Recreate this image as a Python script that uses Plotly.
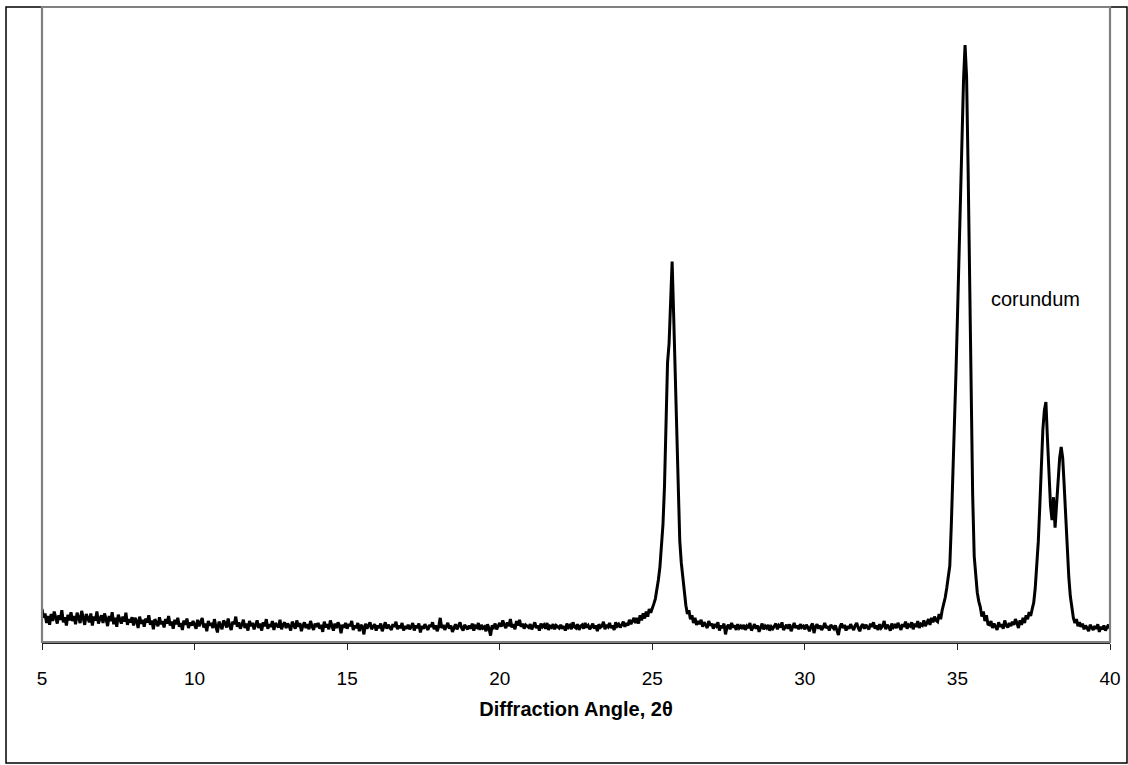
import numpy as np
import plotly.graph_objects as go

# XRD scan, intensity in arbitrary counts; each segment = (start angle, step, counts)
seg_a_start, seg_a_step = 5.0, 0.05
seg_a = [52, 38, 45, 30, 41, 27, 44, 33, 48, 36, 29, 42, 35, 50, 31, 39, 26, 43, 34, 47,
         33, 41, 28, 46, 37, 30, 49, 35, 27, 44, 38, 31, 45, 26, 40, 34, 48, 29, 37, 42,
         30, 45, 36, 25, 41, 33, 47, 28, 38, 24, 43, 35, 29, 40, 32, 46, 27, 36, 31, 39,
         26, 38, 33, 22, 40, 29, 35, 24, 37, 31, 42, 27, 34, 20, 36, 30, 25, 39, 28, 33,
         23, 36, 29, 41, 26, 32, 21, 35, 28, 38, 24, 30, 19, 34, 27, 37, 22, 31, 26, 33,
         28, 21, 35, 25, 31, 38, 23, 29, 17, 33, 26, 30, 22, 36, 24, 15, 32, 27, 20, 34,
         30, 23, 37, 26, 19, 32, 28, 40, 24, 31, 21, 27, 35, 22, 29, 18, 33, 25, 30, 20,
         26, 34, 22, 29, 18, 31, 25, 36, 21, 28, 24, 33, 19, 30, 26, 23, 35, 20, 27, 31,
         22, 29, 25, 18, 32, 27, 21, 34, 24, 30, 17, 26, 31, 22, 28, 20, 33, 25, 19, 29,
         24, 30, 21, 27, 16, 32, 23, 28, 20, 34, 25, 18, 29, 22, 31, 26, 14, 27, 23, 30,
         21, 28, 25, 33, 19, 26, 22, 30, 17, 27, 24, 12, 29, 21, 26, 31, 20, 25, 28, 18,
         26, 22, 29, 17, 25, 31, 21, 27, 23, 19, 28, 24, 32, 20, 26, 22, 30, 18, 25, 21,
         27, 20, 24, 30, 18, 26, 22, 29, 15, 25, 21, 28, 23, 19, 27, 24, 31, 20, 26, 17,
         24, 38, 22, 27, 19, 25, 30, 21, 26, 16, 23, 28, 20, 25, 31, 22, 18, 27, 24, 20,
         26, 21, 29, 18, 25, 23, 30, 19, 27, 22, 24, 17, 28, 21, 10, 26, 23, 29, 20, 25,
         30, 24, 34, 27, 22, 31, 25, 36, 23, 28, 20, 33, 26, 35, 24, 29, 21, 27, 25, 23,
         28, 20, 25, 31, 22, 26, 18, 29, 24, 27, 21, 30, 19, 25, 23, 28, 20, 26, 24, 22,
         27, 21, 25, 18, 29, 23, 26, 20, 31, 24, 22, 28, 19, 25, 27, 21, 30, 23, 26, 20,
         24, 29, 21, 26, 17, 28, 23, 25, 32, 20, 27, 24, 30, 22, 26, 19, 31, 25, 28, 23,
         27, 32, 24, 30, 26, 35, 28, 33, 38]

seg_b_start, seg_b_step = 24.45, 0.05
seg_b = [30, 38, 29, 42, 34, 45, 37, 48, 40, 52, 46, 55,
         60, 68, 80, 98, 118, 145, 185, 245, 330, 440,
         470, 545, 599, 515, 424, 300, 220, 160, 125, 100,
         75, 58, 44, 50, 36, 42, 30, 38, 27, 33]

seg_c_start, seg_c_step = 26.55, 0.05
seg_c = [28, 35, 24, 31, 27, 22, 33, 26, 29,
         21, 28, 25, 31, 18, 26, 22, 29, 12, 24, 27, 20, 30, 23, 26, 19, 28, 22, 25, 21,
         27, 19, 25, 22, 30, 18, 24, 28, 21, 26, 16, 23, 29, 20, 25, 22, 27, 18, 24, 21,
         25, 29, 20, 26, 23, 31, 19, 24, 27, 21, 28, 17, 25, 30, 22, 26, 20, 28, 23, 25,
         20, 27, 23, 17, 25, 29, 14, 24, 28, 21, 26, 19, 23, 30, 22, 25, 18, 27, 24, 21,
         26, 20, 11, 24, 29, 22, 27, 18, 25, 21, 28, 23, 19, 26, 30, 22, 17, 25, 28, 21,
         27, 23, 20, 29, 24, 31, 21, 26, 19, 28, 22, 25, 33, 20, 27, 24, 18, 29, 23, 26,
         22, 30, 25, 19, 28, 24, 32, 21, 27, 25, 31, 20, 29, 24, 33, 22, 28, 26, 34, 25,
         30, 36, 27, 38, 31, 40, 34]

seg_d_start, seg_d_step = 34.35, 0.05
seg_d = [32, 44, 36, 50, 58, 70, 85, 100, 120, 185, 255, 335, 420, 510,
         610, 720, 810, 885, 940, 890, 745, 560, 370, 230, 135, 100,
         78, 64, 55, 40, 48, 33, 42, 28]

seg_e_start, seg_e_step = 36.05, 0.05
seg_e = [27, 33, 22, 29, 25, 19, 31, 24, 28, 21, 34, 26, 23, 30, 25, 32, 27, 36]

seg_f_start, seg_f_step = 36.95, 0.05
seg_f = [30, 22, 34, 27, 38, 30, 42, 36, 47, 41, 52, 62,
         85, 118, 158, 215, 278, 335, 365, 378, 320, 262,
         215, 192, 228, 180, 218, 255, 290, 307, 290, 245,
         195, 145, 102, 72, 52, 38, 30, 36, 25, 31]

seg_g_start, seg_g_step = 39.05, 0.05
seg_g = [24, 29, 20, 26, 22, 17, 27, 23, 19, 25, 21, 28, 16, 24, 20, 26, 18, 23, 27, 21]

x_ticks = [5, 10, 15, 20, 25, 30, 35, 40]
peak_label = "corundum"
peak_label_pos = (37.55, 540)

segments = [
    (seg_a_start, seg_a_step, seg_a),
    (seg_b_start, seg_b_step, seg_b),
    (seg_c_start, seg_c_step, seg_c),
    (seg_d_start, seg_d_step, seg_d),
    (seg_e_start, seg_e_step, seg_e),
    (seg_f_start, seg_f_step, seg_f),
    (seg_g_start, seg_g_step, seg_g),
]
angle = np.concatenate([s + st * np.arange(len(v)) for s, st, v in segments])
counts = np.concatenate([np.asarray(v, dtype=float) for _, _, v in segments])

FONT = "Liberation Sans, Arial, sans-serif"

fig = go.Figure()
fig.add_trace(go.Scatter(
    x=angle, y=counts, mode="lines",
    line=dict(color="black", width=3),
    hoverinfo="skip", showlegend=False,
))

fig.add_annotation(
    x=peak_label_pos[0], y=peak_label_pos[1], text=peak_label,
    showarrow=False, xanchor="center", yanchor="middle",
    font=dict(family=FONT, size=20, color="black"),
)

# outer chart border and grey plot-area frame
fig.add_shape(type="rect", xref="paper", yref="paper",
              x0=-0.0337, x1=1.0159, y0=-0.1906, y1=1.0,
              line=dict(color="black", width=1.5), layer="above")
fig.add_shape(type="rect", xref="paper", yref="paper",
              x0=0, x1=1, y0=0, y1=1,
              line=dict(color="#808080", width=2.2), layer="above")

fig.update_layout(
    width=1128, height=765,
    margin=dict(l=42, r=18, t=7, b=123),
    paper_bgcolor="white", plot_bgcolor="white",
    font=dict(family=FONT, color="black"),
    xaxis=dict(
        range=[5, 40], tickvals=x_ticks, ticktext=[str(t) for t in x_ticks],
        showgrid=False, zeroline=False,
        showline=True, linecolor="#222", linewidth=1.5,
        ticks="outside", ticklen=6, tickwidth=1, tickcolor="#222",
        tickfont=dict(family=FONT, size=19, color="black"),
        ticklabelstandoff=12,
        title=dict(text="<b>Diffraction Angle, 2θ</b>",
                   font=dict(family=FONT, size=20, color="black"),
                   standoff=14),
    ),
    yaxis=dict(
        range=[0, 1000], showgrid=False, zeroline=False,
        showticklabels=False, ticks="", showline=False,
    ),
)

fig.write_html("out.html")
